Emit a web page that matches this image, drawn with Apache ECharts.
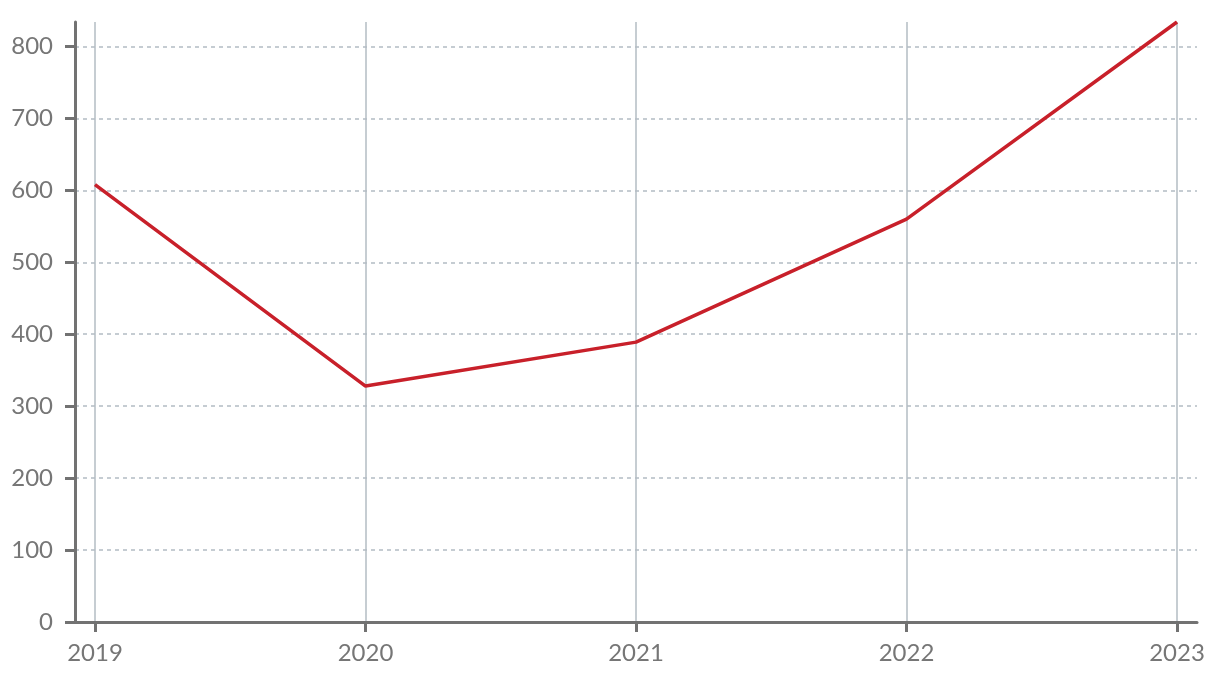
<!DOCTYPE html>
<html>
<head>
<meta charset="utf-8">
<script src="https://cdn.jsdelivr.net/npm/echarts@6/dist/echarts.min.js"></script>
<style>html,body{margin:0;padding:0;background:#fff}#c{width:1220px;height:682px}</style>
</head>
<body>
<div id="c"></div>
<script>
var years = ['2019', '2020', '2021', '2022', '2023'];
var values = [608, 328, 389, 560, 834];
var yTicks = [0, 100, 200, 300, 400, 500, 600, 700, 800];
var yMax = 834;

var chart = echarts.init(document.getElementById('c'), null, {renderer: 'canvas'});
var axisGrey = '#727272';
var labelGrey = '#767676';
var gridGrey = '#b3bcc3';
var font = 'Lato, "Open Sans", sans-serif';

chart.setOption({
  animation: false,
  grid: [
    {left: 75, right: 23, top: 22, bottom: 60, containLabel: false},
    {left: 95, right: 43, top: 22, bottom: 60, containLabel: false}
  ],
  xAxis: [
    {
      gridIndex: 0, type: 'value', min: 0, max: 1,
      axisLine: {show: true, lineStyle: {color: axisGrey, width: 3}},
      axisTick: {show: false}, axisLabel: {show: false}, splitLine: {show: false}
    },
    {
      gridIndex: 1, type: 'category', data: years, boundaryGap: false,
      axisLine: {show: false},
      axisTick: {show: true, length: 10, lineStyle: {color: axisGrey, width: 3}},
      axisLabel: {color: labelGrey, fontSize: 24, fontFamily: font, margin: 19},
      splitLine: {show: true, lineStyle: {color: gridGrey, width: 1.5, type: 'solid'}}
    }
  ],
  yAxis: [
    {
      gridIndex: 0, type: 'value', min: 0, max: yMax, interval: 100,
      axisLine: {show: true, lineStyle: {color: axisGrey, width: 3}},
      axisTick: {show: true, length: 10, customValues: yTicks, lineStyle: {color: axisGrey, width: 3}},
      axisLabel: {color: labelGrey, fontSize: 24, fontFamily: font, margin: 22, customValues: yTicks},
      splitLine: {show: true, showMinLine: false, lineStyle: {color: gridGrey, width: 1.5, type: [4, 4]}}
    },
    {
      gridIndex: 1, type: 'value', min: 0, max: yMax, show: false,
      splitLine: {show: false}
    }
  ],
  series: [
    {
      type: 'line', xAxisIndex: 1, yAxisIndex: 1, data: values,
      showSymbol: false, symbol: 'none',
      lineStyle: {color: '#c8202a', width: 3.5},
      z: 5
    }
  ]
});
</script>
</body>
</html>
